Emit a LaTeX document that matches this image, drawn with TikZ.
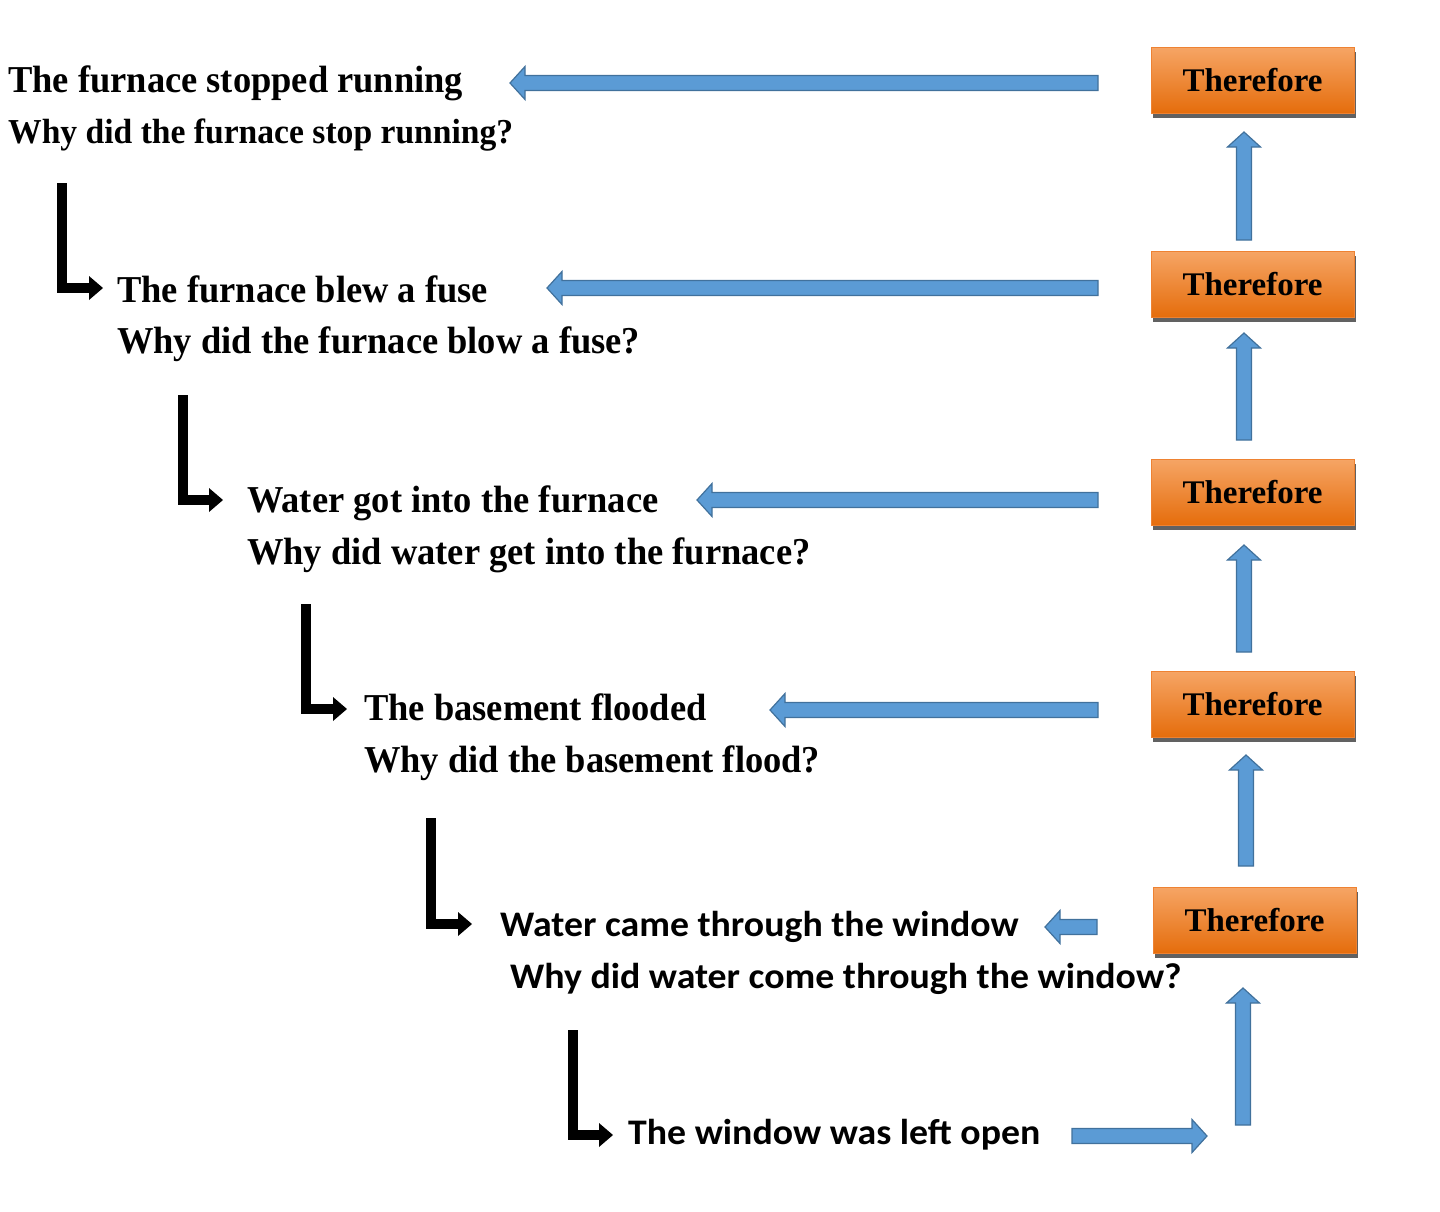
\documentclass[tikz,border=0pt]{standalone}
\usepackage{fontspec}
\usetikzlibrary{calc,arrows.meta,shadows}
\newfontfamily\tnr[FakeStretch=0.96]{Liberation Serif}
\newfontfamily\tnrbox{Liberation Serif}
\newfontfamily\clb[FakeStretch=1.05]{Carlito}
\definecolor{bfill}{HTML}{5B9BD5}
\definecolor{bline}{HTML}{41719C}
\definecolor{otop}{HTML}{F6A565}
\definecolor{obot}{HTML}{E56D0C}
\definecolor{oline}{HTML}{EE8232}
\tikzset{
  barrow/.style={fill=bfill, draw=bline, line width=1.2pt, line join=miter, to path={
    ($(\tikztostart)!7.5pt!90:(\tikztotarget)$) --
    ($(\tikztotarget)!15pt!(\tikztostart)!7.5pt!-90:(\tikztostart)$) --
    ($(\tikztotarget)!15pt!(\tikztostart)!16.5pt!-90:(\tikztostart)$) --
    (\tikztotarget) --
    ($(\tikztotarget)!15pt!(\tikztostart)!16.5pt!90:(\tikztostart)$) --
    ($(\tikztotarget)!15pt!(\tikztostart)!7.5pt!90:(\tikztostart)$) --
    ($(\tikztostart)!7.5pt!-90:(\tikztotarget)$) -- cycle}},
  elbow/.style={draw=black, line width=10pt, line join=miter,
    -{Triangle[width=24pt,length=14pt,line width=0pt]}},
  obox/.style={rectangle, minimum width=203pt, minimum height=66pt, inner sep=0pt,
    top color=otop, bottom color=obot, draw=oline, line width=0.6pt,
    font=\tnrbox\bfseries\fontsize{33}{38}\selectfont,
    general shadow={fill=black!62, shadow xshift=2pt, shadow yshift=-5pt}},
  tn/.style={anchor=base west, inner sep=0pt, font=\tnr\bfseries\fontsize{38}{44}\selectfont},
  tns/.style={anchor=base west, inner sep=0pt, font=\tnr\bfseries\fontsize{35}{41}\selectfont},
  cn/.style={anchor=base west, inner sep=0pt, font=\clb\bfseries\fontsize{36}{42}\selectfont},
}
\begin{document}
\begin{tikzpicture}[x=1pt,y=-1pt]
\useasboundingbox (0,0) rectangle (1440,1211);
% text levels
\node[tn] (l1a) at (8,92) {The furnace stopped running};
\node[tns] (l1b) at (8,143) {Why did the furnace stop running?};
\node[tn] (l2a) at (117,302) {The furnace blew a fuse};
\node[tn] (l2b) at (117,353) {Why did the furnace blow a fuse?};
\node[tn] (l3a) at (247,512) {Water got into the furnace};
\node[tn] (l3b) at (247,564) {Why did water get into the furnace?};
\node[tn] (l4a) at (364,720) {The basement flooded};
\node[tn] (l4b) at (364,772) {Why did the basement flood?};
\node[cn] (l5a) at (500,936) {Water came through the window};
\node[cn] (l5b) at (510,988) {Why did water come through the window?};
\node[cn] (l6a) at (628,1144) {The window was left open};
% boxes
\node[obox] (b1) at (1252.5,80) {Therefore};
\node[obox] (b2) at (1252.5,284) {Therefore};
\node[obox] (b3) at (1252.5,492) {Therefore};
\node[obox] (b4) at (1252.5,704) {Therefore};
\node[obox] (b5) at (1254.5,920) {Therefore};
% elbow arrows
\coordinate (e1s) at (62,183);  \coordinate (e1t) at (103,288);
\coordinate (e2s) at (183,395); \coordinate (e2t) at (223,500);
\coordinate (e3s) at (306,604); \coordinate (e3t) at (347,709);
\coordinate (e4s) at (431,818); \coordinate (e4t) at (472,924);
\coordinate (e5s) at (573,1030); \coordinate (e5t) at (613,1135);
\draw[elbow] (e1s) |- (e1t);
\draw[elbow] (e2s) |- (e2t);
\draw[elbow] (e3s) |- (e3t);
\draw[elbow] (e4s) |- (e4t);
\draw[elbow] (e5s) |- (e5t);
% horizontal block arrows
\coordinate (h1s) at (1098,83);  \coordinate (h1t) at (510,83);
\coordinate (h2s) at (1098,288); \coordinate (h2t) at (547,288);
\coordinate (h3s) at (1098,500); \coordinate (h3t) at (697,500);
\coordinate (h4s) at (1098,710); \coordinate (h4t) at (770,710);
\coordinate (h5s) at (1097,927); \coordinate (h5t) at (1045,927);
\coordinate (h6s) at (1072,1136); \coordinate (h6t) at (1207,1136);
\draw[barrow] (h1s) to (h1t);
\draw[barrow] (h2s) to (h2t);
\draw[barrow] (h3s) to (h3t);
\draw[barrow] (h4s) to (h4t);
\draw[barrow] (h5s) to (h5t);
\draw[barrow] (h6s) to (h6t);
% vertical block arrows
\coordinate (v1s) at (1244,240);  \coordinate (v1t) at (1244,132);
\coordinate (v2s) at (1244,440);  \coordinate (v2t) at (1244,333);
\coordinate (v3s) at (1244,652);  \coordinate (v3t) at (1244,545);
\coordinate (v4s) at (1246,866);  \coordinate (v4t) at (1246,755);
\coordinate (v5s) at (1243,1125); \coordinate (v5t) at (1243,988);
\draw[barrow] (v1s) to (v1t);
\draw[barrow] (v2s) to (v2t);
\draw[barrow] (v3s) to (v3t);
\draw[barrow] (v4s) to (v4t);
\draw[barrow] (v5s) to (v5t);
\end{tikzpicture}
\end{document}
